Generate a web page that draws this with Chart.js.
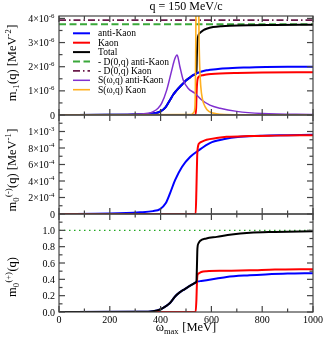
<!DOCTYPE html>
<html>
<head>
<meta charset="utf-8">
<script src="https://cdn.jsdelivr.net/npm/chart.js@4.4.1/dist/chart.umd.min.js"></script>
<style>
  body { margin: 0; background: #fff; }
  #wrap { position: relative; width: 327px; height: 338px; }
  canvas { position: absolute; left: 0; top: 0; }
</style>
</head>
<body>
<div id="wrap">
  <canvas id="c1" width="327" height="338"></canvas>
  <canvas id="c2" width="327" height="338"></canvas>
  <canvas id="c3" width="327" height="338"></canvas>
</div>
<script>
// x axis (omega_max, MeV)
const xMajor = [0, 200, 400, 600, 800, 1000];
const xMinor = [100, 300, 500, 700, 900];
const xLabels = ['0', '200', '400', '600', '800', '1000'];

// top panel: m_-1(q), units of 1e-6 MeV^-2
const wAK1 = [0,200,300,350,380,400,420,437,450,463,476,490,502,515,528,541,550,562,581,594,634,683,750,814,900,1000];
const mAK1 = [0,0.01,0.02,0.04,0.08,0.15,0.33,0.62,0.85,1.02,1.17,1.32,1.45,1.55,1.65,1.72,1.76,1.80,1.85,1.87,1.92,1.95,1.97,1.99,2.0,2.0];
const wK1 = [0,537,540,542,545,550,556,567,581,600,634,700,800,1000];
const mK1 = [0,0,0.3,1.0,1.45,1.58,1.62,1.65,1.68,1.70,1.72,1.74,1.76,1.77];
const wT1 = [0,200,300,350,380,400,420,437,450,463,476,490,502,515,528,541,543,545,549,555,568,581,607,640,673,750,850,1000];
const mT1 = [0,0.01,0.02,0.04,0.08,0.15,0.33,0.62,0.85,1.02,1.17,1.32,1.45,1.55,1.65,1.72,2.5,3.05,3.3,3.4,3.51,3.57,3.64,3.68,3.70,3.72,3.73,3.74];
const wFlat = [0, 1000];
const dAK = [3.76, 3.76];
const dK = [3.93, 3.93];
const wSAK = [0,200,300,350,371,390,404,424,444,455,465,476,489,509,535,562,594,634,700,800,1000];
const sAK = [0,0.01,0.03,0.07,0.14,0.28,0.48,1.03,1.86,2.3,2.48,2.0,1.45,1.1,0.9,0.62,0.41,0.28,0.15,0.06,0.02];
const wSK = [0,520,530,535,537,538.5,540,545,549,551,554,558,565,575,590,620,700,1000];
const sK = [0,0.02,0.1,0.3,1.2,3.0,6.0,10,6.0,3.5,2.0,1.2,0.65,0.35,0.15,0.05,0.01,0];
const yTicks1 = [0, 1, 2, 3, 4];
const yMinor1 = [0.5, 1.5, 2.5, 3.5];
const yLabels1 = ['0', '1×10^{-6}', '2×10^{-6}', '3×10^{-6}', '4×10^{-6}'];

// middle panel: m_0^(-)(q), units of 1e-3 MeV^-1
const wAK2 = [0,200,319,370,398,420,437,457,484,516,549,594,647,713,800,900,1000];
const mAK2 = [0,0.005,0.02,0.035,0.06,0.13,0.25,0.41,0.57,0.69,0.77,0.86,0.905,0.935,0.95,0.955,0.96];
const wK2 = [0,538,541,544,548,553,565,581,620,660,750,850,1000];
const mK2 = [0,0,0.3,0.7,0.83,0.86,0.88,0.9,0.92,0.935,0.945,0.95,0.955];
const yTicks2 = [0, 0.2, 0.4, 0.6, 0.8, 1.0];
const yMinor2 = [0.1, 0.3, 0.5, 0.7, 0.9, 1.1];
const yLabels2 = ['0', '2×10^{-4}', '4×10^{-4}', '6×10^{-4}', '8×10^{-4}', '1×10^{-3}'];

// bottom panel: m_0^(+)(q)
const wT3 = [0,319,370,398,420,437,457,475,490,510,529,538,541,543,545,549,555,580,621,680,752,850,1000];
const mT3 = [0,0.003,0.01,0.03,0.07,0.11,0.19,0.24,0.27,0.31,0.345,0.36,0.37,0.55,0.78,0.84,0.87,0.9,0.92,0.95,0.97,0.98,0.99];
const wAK3 = [0,319,370,398,420,437,457,475,490,510,529,538,541,549,560,581,621,660,750,813,900,1000];
const mAK3 = [0,0.003,0.01,0.03,0.07,0.11,0.19,0.24,0.27,0.31,0.345,0.36,0.37,0.375,0.38,0.39,0.41,0.43,0.45,0.46,0.47,0.475];
const wK3 = [0,538,541,543,545,549,560,581,650,750,850,1000];
const mK3 = [0,0,0.15,0.35,0.45,0.47,0.49,0.5,0.505,0.51,0.52,0.525];
const norm3 = [1, 1];
const yTicks3 = [0, 0.2, 0.4, 0.6, 0.8, 1.0];
const yMinor3 = [0.1, 0.3, 0.5, 0.7, 0.9, 1.1];
const yLabels3 = ['0.0', '0.2', '0.4', '0.6', '0.8', '1.0'];

const SERIF = '"Liberation Serif", "Times New Roman", serif';
const pts = (xs, ys) => xs.map((x, i) => ({x: x, y: ys[i]}));

// tiny markup: a_{sub} b^{sup}
function parseRich(s) {
  const parts = [];
  const re = /([_^])\{([^}]*)\}/g;
  let last = 0, m;
  while ((m = re.exec(s)) !== null) {
    if (m.index > last) parts.push({t: s.slice(last, m.index), k: 0});
    parts.push({t: m[2], k: m[1] === '^' ? 1 : -1});
    last = re.lastIndex;
  }
  if (last < s.length) parts.push({t: s.slice(last), k: 0});
  return parts;
}

function richText(ctx, str, x, y, size, align) {
  const parts = parseRich(str);
  const small = size * 0.68;
  const widths = parts.map(p => {
    ctx.font = (p.k ? small : size) + 'px ' + SERIF;
    return ctx.measureText(p.t).width + (p.k ? 0.5 : 0);
  });
  const total = widths.reduce((a, b) => a + b, 0);
  let cx = align === 'right' ? x - total : align === 'center' ? x - total / 2 : x;
  ctx.textAlign = 'left';
  ctx.textBaseline = 'alphabetic';
  parts.forEach((p, i) => {
    ctx.font = (p.k ? small : size) + 'px ' + SERIF;
    const dy = p.k === 1 ? -size * 0.42 : p.k === -1 ? size * 0.25 : 0;
    ctx.fillText(p.t, cx, y + dy);
    cx += widths[i];
  });
}

const framePlugin = {
  id: 'frame',
  afterDatasetsDraw(chart, args, o) {
    const ctx = chart.ctx, a = chart.chartArea;
    const xs = chart.scales.x, ys = chart.scales.y;
    ctx.save();
    ctx.strokeStyle = '#444';
    ctx.lineWidth = 1.2;
    ctx.setLineDash([]);
    ctx.strokeRect(a.left, a.top, a.right - a.left, a.bottom - a.top);
    const tick = (px, py, dx, dy) => {
      ctx.beginPath(); ctx.moveTo(px, py); ctx.lineTo(px + dx, py + dy); ctx.stroke();
    };
    xMajor.forEach(v => { const p = xs.getPixelForValue(v); tick(p, a.bottom, 0, -6); tick(p, a.top, 0, 6); });
    xMinor.forEach(v => { const p = xs.getPixelForValue(v); tick(p, a.bottom, 0, -3.5); tick(p, a.top, 0, 3.5); });
    o.yTicks.forEach(v => { const p = ys.getPixelForValue(v); tick(a.left, p, 6, 0); tick(a.right, p, -6, 0); });
    o.yMinor.forEach(v => { const p = ys.getPixelForValue(v); tick(a.left, p, 3.5, 0); tick(a.right, p, -3.5, 0); });

    ctx.fillStyle = '#000';
    o.yTicks.forEach((v, i) => {
      richText(ctx, o.yLabels[i], a.left - 4, ys.getPixelForValue(v) + 3.5, 10, 'right');
    });
    if (o.xLabels) {
      xMajor.forEach((v, i) => richText(ctx, xLabels[i], xs.getPixelForValue(v), a.bottom + 11, 10, 'center'));
      richText(ctx, 'ω_{max} [MeV]', (a.left + a.right) / 2, a.bottom + 19, 12.5, 'center');
    }
    // rotated y title
    ctx.save();
    ctx.translate(16, o.titleY);
    ctx.rotate(-Math.PI / 2);
    richText(ctx, o.yTitle, 0, 0, 12.5, 'center');
    ctx.restore();

    if (o.title) richText(ctx, o.title, (a.left + a.right) / 2, 10, 12, 'center');

    if (o.legend) {
      chart.data.datasets.forEach((d, i) => {
        const y = 33.3 + i * 9.4;
        ctx.strokeStyle = d.borderColor;
        ctx.lineWidth = d.borderWidth;
        ctx.setLineDash(d.borderDash || []);
        ctx.beginPath(); ctx.moveTo(73, y); ctx.lineTo(90, y); ctx.stroke();
        ctx.setLineDash([]);
        ctx.fillStyle = '#000';
        ctx.font = '9.5px ' + SERIF;
        ctx.textBaseline = 'middle';
        ctx.textAlign = 'left';
        ctx.fillText(d.label, 98, y + 0.5);
      });
    }
    ctx.restore();
  }
};

function makePanel(id, top, bottom, yMax, datasets, frame) {
  return new Chart(document.getElementById(id), {
    type: 'line',
    data: {datasets: datasets},
    options: {
      responsive: false,
      animation: false,
      devicePixelRatio: 1,
      layout: {padding: {left: 59, right: 14, top: top, bottom: 338 - bottom}},
      elements: {point: {radius: 0}, line: {cubicInterpolationMode: 'monotone', borderJoinStyle: 'round'}},
      scales: {
        x: {type: 'linear', min: 0, max: 1000, display: false},
        y: {type: 'linear', min: 0, max: yMax, display: false}
      },
      plugins: {legend: {display: false}, tooltip: {enabled: false}, frame: frame}
    },
    plugins: [framePlugin]
  });
}

const line = (label, xs, ys, color, width, order, dash) => ({
  label: label, data: pts(xs, ys), borderColor: color, borderWidth: width,
  borderDash: dash || [], order: order, fill: false
});

makePanel('c1', 16, 115, 4.1, [
  line('anti-Kaon', wAK1, mAK1, '#0000ff', 2, 5),
  line('Kaon', wK1, mK1, '#ff0000', 2, 4),
  line('Total', wT1, mT1, '#000000', 2, 6),
  line('- D(0,q) anti-Kaon', wFlat, dAK, '#3aa83a', 2, 10, [7, 3.5]),
  line('- D(0,q) Kaon', wFlat, dK, '#6a1a4a', 1.6, 10, [7, 3, 1.5, 3]),
  line('S(ω,q) anti-Kaon', wSAK, sAK, '#8030d0', 1.5, 3),
  line('S(ω,q) Kaon', wSK, sK, '#ffb020', 1.6, 2)
], {yTicks: yTicks1, yMinor: yMinor1, yLabels: yLabels1, yTitle: 'm_{-1}(q) [MeV^{-2}]', titleY: 63,
    legend: true, title: 'q = 150 MeV/c'});

makePanel('c2', 115, 214, 1.2, [
  line('anti-Kaon', wAK2, mAK2, '#0000ff', 2, 5),
  line('Kaon', wK2, mK2, '#ff0000', 2, 3)
], {yTicks: yTicks2, yMinor: yMinor2, yLabels: yLabels2, yTitle: 'm_{0}^{(-)}(q) [MeV^{-1}]', titleY: 170});

makePanel('c3', 214, 312, 1.2, [
  line('norm', wFlat, norm3, '#22aa22', 1.3, 10, [1.5, 3.5]),
  line('anti-Kaon', wAK3, mAK3, '#0000ff', 2, 5),
  line('Kaon', wK3, mK3, '#ff0000', 2, 4),
  line('Total', wT3, mT3, '#000000', 2, 3)
], {yTicks: yTicks3, yMinor: yMinor3, yLabels: yLabels3, yTitle: 'm_{0}^{(+)}(q)', titleY: 277, xLabels: true});
</script>
</body>
</html>
